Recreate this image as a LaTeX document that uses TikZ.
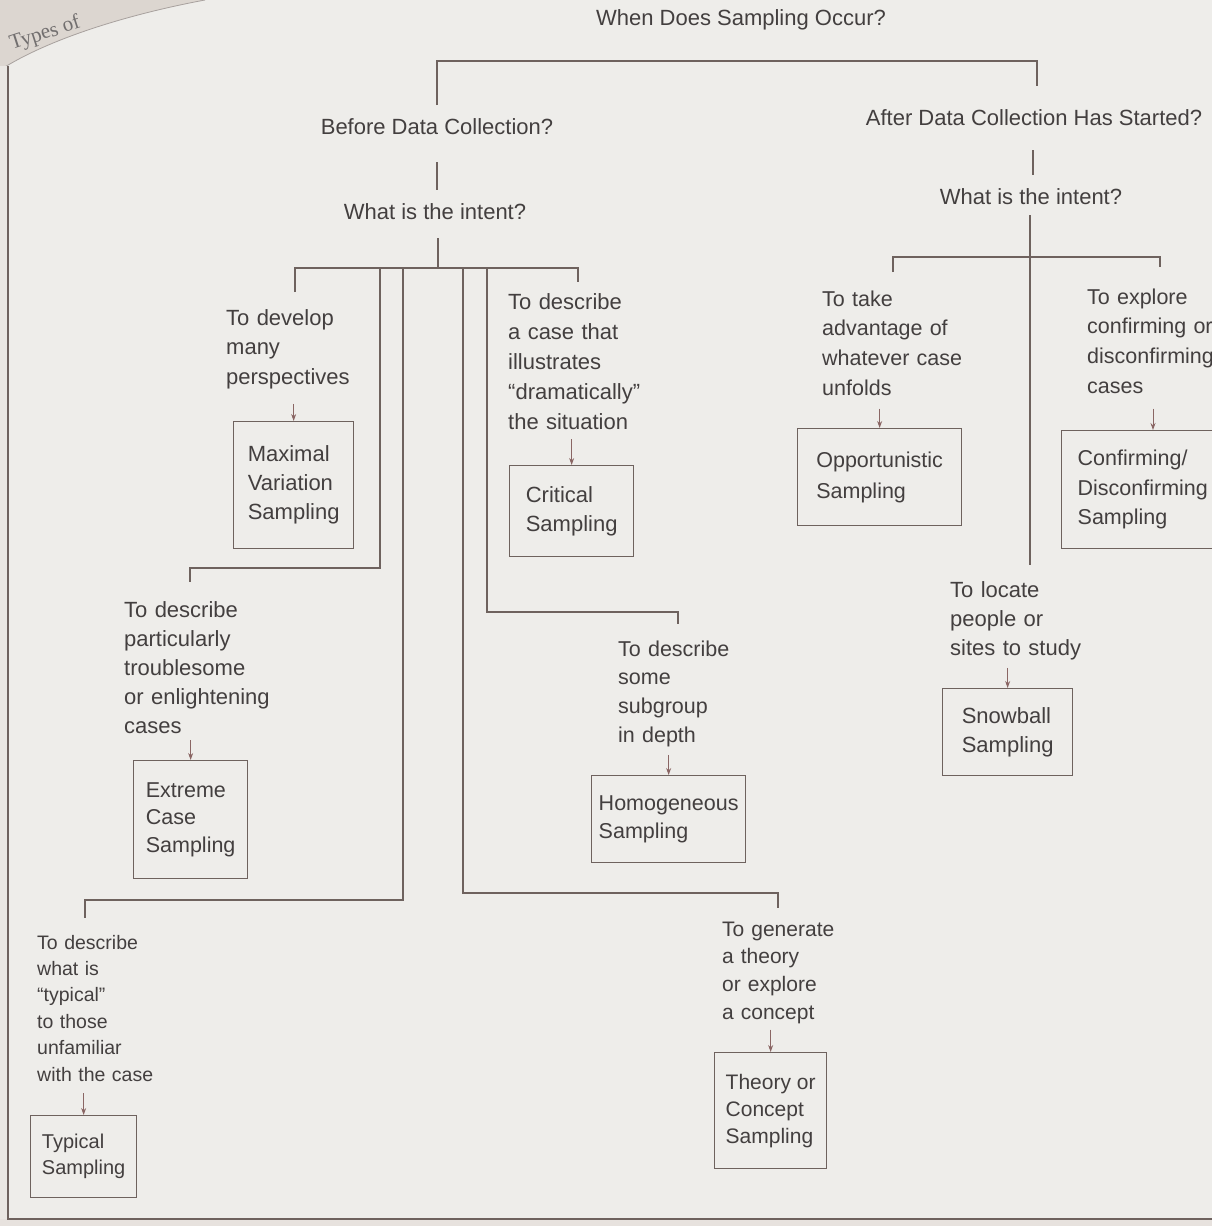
\documentclass[tikz,border=0pt]{standalone}
\usepackage{fontspec}
\setmainfont{Liberation Sans}
\newfontfamily\hdrserif{Liberation Serif}
\usetikzlibrary{arrows.meta}
\definecolor{ink}{HTML}{433F3F}
\definecolor{rulec}{HTML}{6E625E}
\definecolor{arrc}{HTML}{8A6664}
\definecolor{paper}{HTML}{EEEDEA}
\definecolor{pagedge}{HTML}{DCD6D0}
\begin{document}
\begin{tikzpicture}[x=1pt,y=-1pt,
  lbl/.style={anchor=base west, inner sep=0pt, text width=230pt, align=left, text=ink,
              font=\fontsize{22}{29.5}\selectfont},
  hdr/.style={anchor=base, inner sep=0pt, text=ink, font=\fontsize{22}{26}\selectfont},
  sbox/.style={draw=rulec, line width=1.3pt, anchor=north west, inner sep=0pt, align=left,
               text=ink, font=\fontsize{22}{29}\selectfont},
  tree/.style={draw=rulec, line width=1.1pt},
  arr/.style={draw=arrc, line width=0.9pt, -{Stealth[length=7pt,width=5pt]}, shorten <=#1}
]
% background and page edges
\fill[paper] (0,0) rectangle (1212,1226);
\useasboundingbox (0,0) rectangle (1212,1226);
\fill[pagedge] (0,0) -- (205,0) .. controls (130,14) and (50,38) .. (0,70) -- cycle;
\draw[rulec!60, line width=0.8pt] (205,0) .. controls (130,14) and (50,38) .. (0,70);
\node[anchor=base west, inner sep=0pt, rotate=18, text=ink!75,
      font=\hdrserif\fontsize{21}{24}\selectfont] (pagehdr) at (12,50) {Types of};
\fill[pagedge!70] (0,1219) rectangle (1212,1226);
\fill[pagedge!60] (0,66) rectangle (7,1219);
\draw[rulec, line width=1.2pt] (8,66) -- (8,1219) -- (1212,1219);

% headings
\node[hdr] (when)   at (741,25)   {When Does Sampling Occur?};
\node[hdr] (before) at (437,134)  {Before Data Collection?};
\node[hdr] (after)  at (1034,125) {After Data Collection Has Started?};
\node[hdr] (wiL)    at (435,219)  {What is the intent?};
\node[hdr] (wiR)    at (1031,204) {What is the intent?};

% purpose texts
\node[lbl] (tdev)  at (226,325) {To develop\\many\\perspectives};
\node[lbl, font=\fontsize{22}{30}\selectfont] (tcrit) at (508,309)
      {To describe\\a case that\\illustrates\\“dramatically”\\the situation};
\node[lbl, font=\fontsize{22}{29}\selectfont] (ttrou) at (124,617)
      {To describe\\particularly\\troublesome\\or enlightening\\cases};
\node[lbl, font=\fontsize{21.5}{28.7}\selectfont] (tsub) at (618,656)
      {To describe\\some\\subgroup\\in depth};
\node[lbl, font=\fontsize{19.5}{26.4}\selectfont] (ttyp) at (37,949)
      {To describe\\what is\\“typical”\\to those\\unfamiliar\\with the case};
\node[lbl, font=\fontsize{21}{27.7}\selectfont] (tgen) at (722,936)
      {To generate\\a theory\\or explore\\a concept};
\node[lbl, font=\fontsize{21.5}{29.7}\selectfont] (topp) at (822,306)
      {To take\\advantage of\\whatever case\\unfolds};
\node[lbl, font=\fontsize{21.5}{29.7}\selectfont] (tconf) at (1087,304)
      {To explore\\confirming or\\disconfirming\\cases};
\node[lbl, font=\fontsize{22}{29}\selectfont] (tloc) at (950,597)
      {To locate\\people or\\sites to study};

% sampling boxes
\node[sbox, minimum width=120pt, minimum height=127pt] (bmax) at (233,421)
      {Maximal\\Variation\\Sampling};
\node[sbox, minimum width=124pt, minimum height=91pt] (bcrit) at (509,465)
      {Critical\\Sampling};
\node[sbox, minimum width=114pt, minimum height=118pt, font=\fontsize{21.5}{27.5}\selectfont] (bext) at (133,760)
      {Extreme\\Case\\Sampling};
\node[sbox, minimum width=154pt, minimum height=87pt, font=\fontsize{21.5}{28}\selectfont] (bhom) at (591,775)
      {Homogeneous\\Sampling};
\node[sbox, minimum width=106pt, minimum height=82pt, font=\fontsize{20}{26}\selectfont] (btyp) at (30,1115)
      {Typical\\Sampling};
\node[sbox, minimum width=112pt, minimum height=116pt, font=\fontsize{21}{27}\selectfont] (bthe) at (714,1052)
      {Theory or\\Concept\\Sampling};
\node[sbox, minimum width=164pt, minimum height=97pt, font=\fontsize{21.5}{31}\selectfont] (bopp) at (797,428)
      {Opportunistic\\Sampling};
\node[sbox, minimum height=118pt, text width=170pt, inner xsep=16pt, font=\fontsize{21.5}{29.5}\selectfont] (bconf) at (1061,430)
      {Confirming/\\Disconfirming\\Sampling};
\node[sbox, minimum width=130pt, minimum height=87pt] (bsnow) at (942,688)
      {Snowball\\Sampling};

% junction coordinates
\coordinate (topbar) at (0,61);
\coordinate (barL) at (0,268);
\coordinate (barR) at (0,257);
\coordinate (dDev) at (295,292);
\coordinate (dCrit) at (578,282);
\coordinate (jTrou) at (380,568);
\coordinate (dTrou) at (190,582);
\coordinate (jTyp) at (403,900);
\coordinate (dTyp) at (85,918);
\coordinate (jGen) at (463,893);
\coordinate (dGen) at (778,908);
\coordinate (jSub) at (487,612);
\coordinate (dSub) at (678,624);
\coordinate (dOpp) at (893,272);
\coordinate (dConf) at (1160,267);
\coordinate (eLoc) at (1030,565);

% top level
\draw[tree] ([yshift=29pt]before.base) -- (before.base |- topbar) -- (1037,61 |- topbar)
            -- ([yshift=39pt]after.base -| 1037,0);
\draw[tree] ([yshift=-28pt]before.base) -- ([yshift=-56pt]before.base);
\draw[tree] ([yshift=-25pt]after.base -| 1033,0) -- ([yshift=-50pt]after.base -| 1033,0);

% left tree
\draw[tree] ([yshift=-19pt]wiL.base -| 438,0) -- (438,0 |- barL);
\draw[tree] (dDev) -- (dDev |- barL) -- (dCrit |- barL) -- (dCrit);
\draw[tree] (jTrou |- barL) -- (jTrou) -- (dTrou |- jTrou) -- (dTrou);
\draw[tree] (jTyp |- barL) -- (jTyp) -- (dTyp |- jTyp) -- (dTyp);
\draw[tree] (jGen |- barL) -- (jGen) -- (dGen |- jGen) -- (dGen);
\draw[tree] (jSub |- barL) -- (jSub) -- (dSub |- jSub) -- (dSub);

% right tree
\draw[tree] ([yshift=-11pt]wiR.base -| eLoc) -- (eLoc);
\draw[tree] (dOpp) -- (dOpp |- barR) -- (dConf |- barR) -- (dConf);

% arrows
\draw[arr=15pt] (bmax.north |- tdev.south) -- (bmax.north);
\draw[arr=10pt] (bcrit.north |- tcrit.south) -- (bcrit.north);
\draw[arr=7pt] (bext.north |- ttrou.south) -- (bext.north);
\draw[arr=8pt] (bhom.north |- tsub.south) -- (bhom.north);
\draw[arr=12pt] (btyp.north |- ttyp.south) -- (btyp.north);
\draw[arr=6pt] (bthe.north |- tgen.south) -- (bthe.north);
\draw[arr=13pt] (bopp.north |- topp.south) -- (bopp.north);
\draw[arr=15pt] (1153,0 |- tconf.south) -- (1153,0 |- bconf.north);
\draw[arr=8pt] (bsnow.north |- tloc.south) -- (bsnow.north);
\end{tikzpicture}
\end{document}
